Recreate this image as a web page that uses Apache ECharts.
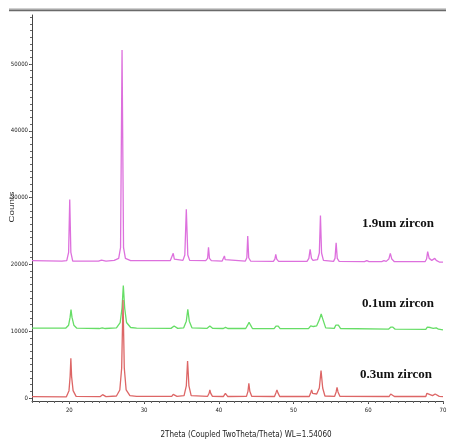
<!DOCTYPE html>
<html><head><meta charset="utf-8">
<script src="https://cdn.jsdelivr.net/npm/echarts@6/dist/echarts.min.js"></script>
<style>html,body{margin:0;padding:0;background:#fff}#c{width:455px;height:448px}</style>
</head><body><div id="c"></div>
<script>
// 2Theta (deg), Counts
const pink19 = [
[15.0,20550],[19.0,20500],
[19.65,20550],[19.9,21800],[20.05,29700],[20.2,21800],[20.45,20500],
[23.9,20500],[24.3,20650],[24.4,20900],[24.5,20650],[24.9,20500],
[26.0,20600],[26.6,20900],[26.85,22500],[27.05,52100],[27.25,22500],[27.5,20900],[28.2,20550],
[33.5,20550],[33.75,20800],[33.9,21650],[34.05,20800],[34.3,20550],
[35.2,20600],[35.45,21400],[35.65,28250],[35.85,21400],[36.1,20600],
[38.25,20550],[38.5,20900],[38.62,22560],[38.75,20900],[39.0,20550],
[40.45,20500],[40.65,20700],[40.75,21260],[40.85,20700],[41.1,20500],
[43.55,20500],[43.75,21000],[43.87,24250],[44.0,21000],[44.25,20500],
[47.3,20450],[47.5,20800],[47.62,21500],[47.75,20800],[48.0,20450],
[51.8,20450],[52.05,20900],[52.22,22260],[52.4,20900],[52.6,20600],[53.2,20700],[53.45,21700],[53.6,27300],[53.75,21700],[54.0,20600],
[55.35,20450],[55.55,20900],[55.7,23250],[55.85,20900],[56.1,20450],
[59.5,20400],[59.8,20550],[60.1,20400],
[61.8,20400],[62.1,20550],[62.4,20450],[62.75,20800],[62.95,21660],[63.15,20800],[63.5,20400],
[67.6,20400],[67.8,20800],[67.95,21900],[68.15,20900],[68.5,20600],[68.75,20700],[68.9,20900],[69.1,20600],[69.5,20350],[70.0,20350]
];
const green01 = [
[15.0,10450],[19.5,10450],[19.9,10900],[20.1,12100],[20.22,13250],[20.35,12100],[20.6,10900],[21.0,10450],
[24.0,10400],[24.4,10500],[24.8,10400],
[26.3,10500],[26.8,11300],[27.05,13500],[27.22,16850],[27.4,13500],[27.65,11300],[28.2,10550],[29.0,10450],
[33.6,10420],[33.85,10650],[34.02,10780],[34.2,10650],[34.5,10420],
[35.3,10500],[35.65,11500],[35.85,13280],[36.05,11500],[36.4,10500],
[38.4,10420],[38.65,10650],[38.8,10780],[38.95,10650],[39.2,10420],
[40.6,10400],[40.9,10580],[41.2,10400],
[43.6,10400],[43.85,10900],[44.05,11350],[44.25,10900],[44.5,10400],
[47.4,10380],[47.65,10750],[47.8,10930],[47.95,10750],[48.2,10380],
[52.0,10380],[52.3,10800],[52.45,10930],[52.65,10700],[53.1,10800],[53.45,11700],[53.7,12570],[53.95,11700],[54.3,10500],
[55.45,10420],[55.65,10900],[55.82,11180],[56.0,10900],[56.3,10400],
[62.7,10300],[63.0,10600],[63.15,10680],[63.3,10600],[63.6,10300],
[67.7,10280],[67.9,10600],[68.08,10730],[68.3,10550],[68.7,10420],[68.95,10530],[69.1,10500],[69.4,10300],[70.0,10200]
];
const red03 = [
[15.0,200],[19.6,180],[19.95,1100],[20.1,3200],[20.2,5940],[20.3,3200],[20.5,1100],[20.9,250],
[24.1,200],[24.35,400],[24.45,500],[24.6,350],[24.9,200],
[26.3,300],[26.75,1200],[27.0,4500],[27.18,14650],[27.35,4500],[27.6,1200],[28.1,350],[29.0,250],
[33.7,250],[33.9,550],[34.02,800],[34.15,550],[34.4,250],
[35.35,350],[35.65,1800],[35.82,5540],[36.0,1800],[36.3,350],
[38.5,250],[38.7,700],[38.8,1200],[38.92,700],[39.15,250],
[40.6,220],[40.8,500],[40.88,700],[41.0,500],[41.2,220],
[43.7,250],[43.9,1000],[44.02,2200],[44.15,1000],[44.4,250],
[47.45,220],[47.65,800],[47.78,1200],[47.9,800],[48.15,220],
[52.1,220],[52.3,800],[52.42,1200],[52.55,700],[53.1,600],[53.45,1500],[53.68,4090],[53.9,1500],[54.2,300],
[55.5,250],[55.7,900],[55.82,1600],[55.95,900],[56.2,250],
[62.8,220],[63.0,600],[63.1,800],[63.25,600],[63.5,220],
[67.7,220],[67.85,700],[67.96,950],[68.1,600],[68.6,350],[68.95,600],[69.08,700],[69.2,550],[69.5,250],[70.0,200]
];
const seriesNames = ['1.9um zircon','0.1um zircon','0.3um zircon'];
const yMajorTicks = [0,10000,20000,30000,40000,50000];
const xMajorTicks = [20,30,40,50,60,70];
const yMinorTicks = []; for (let v = 0; v <= 57000; v += 1000) yMinorTicks.push(v);
const xMinorTicks = []; for (let v = 15; v <= 70; v += 1) xMinorTicks.push(v);
const xName = '2Theta (Coupled TwoTheta/Theta) WL=1.54060';
const yName = 'Counts';

const chart = echarts.init(document.getElementById('c'), null, {renderer:'canvas'});
const lbl = {fontSize:6, fontFamily:'"Liberation Sans Narrow","DejaVu Sans Condensed",sans-serif', color:'#222',
  formatter: function (v) { return String(v); }};
const axisBase = {type:'value', splitLine:{show:false}};
chart.setOption({
  animation:false,
  backgroundColor:'#fff',
  grid:{left:32, right:12, top:15, bottom:47, containLabel:false},
  xAxis:[
    Object.assign({}, axisBase, {min:15, max:70, position:'bottom',
      axisLine:{show:true, onZero:false, lineStyle:{color:'#444', width:1}},
      axisTick:{show:true, length:3, customValues:xMajorTicks, lineStyle:{color:'#444'}},
      axisLabel:Object.assign({customValues:xMajorTicks, margin:6}, lbl)}),
    Object.assign({}, axisBase, {min:15, max:70, position:'bottom',
      axisLine:{show:false, onZero:false},
      axisTick:{show:true, length:2, customValues:xMinorTicks, lineStyle:{color:'#666'}},
      axisLabel:{show:false}})
  ],
  yAxis:[
    Object.assign({}, axisBase, {min:-450, max:57330, position:'left',
      axisLine:{show:true, onZero:false, lineStyle:{color:'#444', width:1}},
      axisTick:{show:true, length:3, customValues:yMajorTicks, lineStyle:{color:'#444'}},
      axisLabel:Object.assign({customValues:yMajorTicks, margin:4}, lbl)}),
    Object.assign({}, axisBase, {min:-450, max:57330, position:'left',
      axisLine:{show:false, onZero:false},
      axisTick:{show:true, length:2, customValues:yMinorTicks, lineStyle:{color:'#666'}},
      axisLabel:{show:false}})
  ],
  series:[
    {name:seriesNames[0], type:'line', data:pink19, symbol:'none', xAxisIndex:0, yAxisIndex:0,
     lineStyle:{color:'#dd70dd', width:1.3}, z:2},
    {name:seriesNames[1], type:'line', data:green01, symbol:'none', xAxisIndex:0, yAxisIndex:0,
     lineStyle:{color:'#66dd66', width:1.3}, z:3},
    {name:seriesNames[2], type:'line', data:red03, symbol:'none', xAxisIndex:0, yAxisIndex:0,
     lineStyle:{color:'#dd6666', width:1.3}, z:4}
  ],
  graphic:[
    {type:'rect', shape:{x:9, y:8, width:437, height:1.5}, style:{fill:'#d0d0d0'}, silent:true},
    {type:'rect', shape:{x:9, y:9.5, width:437, height:1.7}, style:{fill:'#6a6a6a'}, silent:true},
    {type:'text', x:12.7, y:207, rotation:Math.PI/2, scaleX:1.5,
     style:{text:yName, font:'6.5px "Liberation Sans",sans-serif', align:'center', verticalAlign:'middle', fill:'#333'}},
    {type:'text', x:246, y:435,
     style:{text:xName, font:'8px "Liberation Sans Narrow","DejaVu Sans Condensed",sans-serif', align:'center', verticalAlign:'middle', fill:'#222'}},
    {type:'text', x:362, y:224,
     style:{text:seriesNames[0], font:'bold 13px "Liberation Serif",serif', align:'left', verticalAlign:'middle', fill:'#111'}},
    {type:'text', x:362, y:303.5,
     style:{text:seriesNames[1], font:'bold 13px "Liberation Serif",serif', align:'left', verticalAlign:'middle', fill:'#111'}},
    {type:'text', x:360, y:374.5,
     style:{text:seriesNames[2], font:'bold 13px "Liberation Serif",serif', align:'left', verticalAlign:'middle', fill:'#111'}}
  ]
});
</script></body></html>
